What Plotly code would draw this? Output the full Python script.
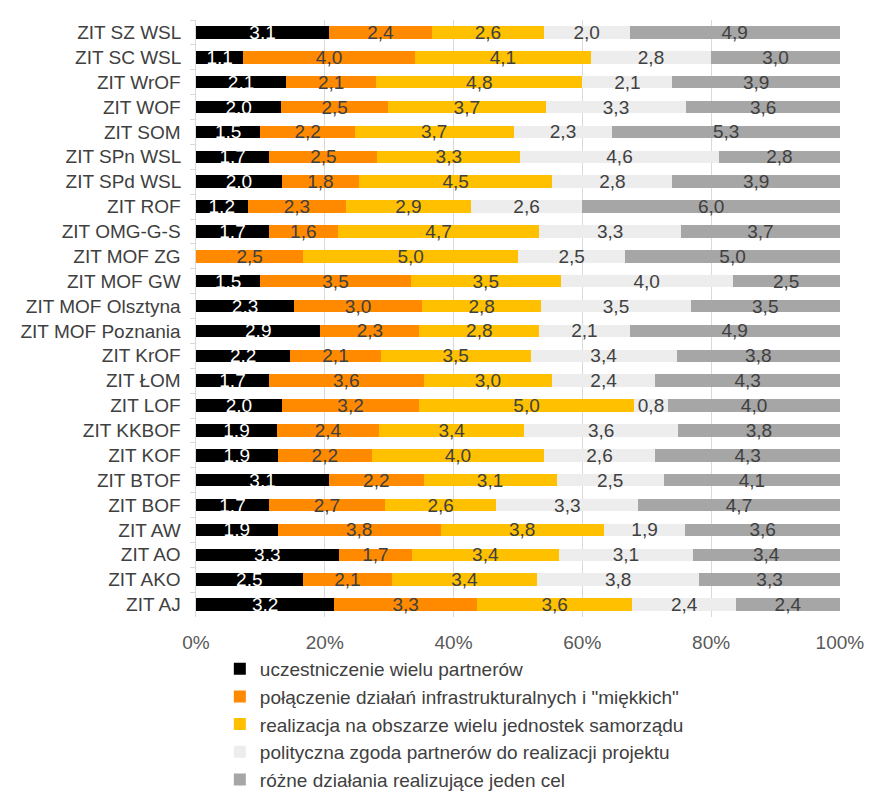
import plotly.graph_objects as go

categories = ["ZIT SZ WSL", "ZIT SC WSL", "ZIT WrOF", "ZIT WOF", "ZIT SOM", "ZIT SPn WSL",
              "ZIT SPd WSL", "ZIT ROF", "ZIT OMG-G-S", "ZIT MOF ZG", "ZIT MOF GW",
              "ZIT MOF Olsztyna", "ZIT MOF Poznania", "ZIT KrOF", "ZIT ŁOM", "ZIT LOF",
              "ZIT KKBOF", "ZIT KOF", "ZIT BTOF", "ZIT BOF", "ZIT AW", "ZIT AO", "ZIT AKO", "ZIT AJ"]

uczestniczenie = [3.1, 1.1, 2.1, 2.0, 1.5, 1.7, 2.0, 1.2, 1.7, 0.0, 1.5, 2.3, 2.9, 2.2, 1.7, 2.0,
                  1.9, 1.9, 3.1, 1.7, 1.9, 3.3, 2.5, 3.2]
polaczenie = [2.4, 4.0, 2.1, 2.5, 2.2, 2.5, 1.8, 2.3, 1.6, 2.5, 3.5, 3.0, 2.3, 2.1, 3.6, 3.2,
              2.4, 2.2, 2.2, 2.7, 3.8, 1.7, 2.1, 3.3]
realizacja = [2.6, 4.1, 4.8, 3.7, 3.7, 3.3, 4.5, 2.9, 4.7, 5.0, 3.5, 2.8, 2.8, 3.5, 3.0, 5.0,
              3.4, 4.0, 3.1, 2.6, 3.8, 3.4, 3.4, 3.6]
polityczna = [2.0, 2.8, 2.1, 3.3, 2.3, 4.6, 2.8, 2.6, 3.3, 2.5, 4.0, 3.5, 2.1, 3.4, 2.4, 0.8,
              3.6, 2.6, 2.5, 3.3, 1.9, 3.1, 3.8, 2.4]
rozne = [4.9, 3.0, 3.9, 3.6, 5.3, 2.8, 3.9, 6.0, 3.7, 5.0, 2.5, 3.5, 4.9, 3.8, 4.3, 4.0,
         3.8, 4.3, 4.1, 4.7, 3.6, 3.4, 3.3, 2.4]

series_names = ["uczestniczenie wielu partnerów",
                "połączenie działań infrastrukturalnych i \"miękkich\"",
                "realizacja na obszarze wielu jednostek samorządu",
                "polityczna zgoda partnerów do realizacji projektu",
                "różne działania realizujące jeden cel"]
series_values = [uczestniczenie, polaczenie, realizacja, polityczna, rozne]
colors = ["#000000", "#FF8A00", "#FFC000", "#EDEDED", "#A6A6A6"]
text_colors = ["#FFFFFF", "#404040", "#404040", "#404040", "#404040"]

FONT = "Liberation Sans, Arial, sans-serif"
FS = 19

fig = go.Figure()
for name, vals, col, tcol in zip(series_names, series_values, colors, text_colors):
    fig.add_trace(go.Bar(
        y=categories, x=vals, name=name, orientation="h",
        marker=dict(color=col, line=dict(width=0)),
        text=[("" if v == 0 else f"{v:.1f}".replace(".", ",")) for v in vals],
        textposition="inside", insidetextanchor="middle", textangle=0,
        textfont=dict(color=tcol, size=FS, family=FONT),
        cliponaxis=False,
        hoverinfo="skip",
    ))

fig.update_layout(
    barmode="stack", barnorm="percent", bargap=0.5,
    width=886, height=804,
    margin=dict(l=188, r=54, t=12, b=195),
    plot_bgcolor="white", paper_bgcolor="white",
    font=dict(family=FONT, size=FS, color="#404040"),
    uniformtext=dict(minsize=FS, mode="show"),
    xaxis=dict(range=[0, 100.02], tickvals=[0, 20, 40, 60, 80, 100],
               ticktext=["0%", "20%", "40%", "60%", "80%", "100%"],
               showgrid=True, gridcolor="#D9D9D9", gridwidth=1,
               zeroline=False, showline=False, ticks="outside", ticklen=8,
               tickcolor="rgba(0,0,0,0)", automargin=False,
               tickfont=dict(size=FS, color="#595959", family=FONT)),
    yaxis=dict(autorange="reversed", showgrid=False, showline=True, linecolor="#D9D9D9",
               ticks="outside", ticklen=5, tickcolor="#D9D9D9", tickson="boundaries",
               ticksuffix="  ", automargin=False,
               tickfont=dict(size=FS, color="#404040", family=FONT)),
    legend=dict(orientation="v", x=0.037, xanchor="left", y=-0.055, yanchor="top",
                font=dict(size=FS, color="#404040", family=FONT),
                traceorder="normal", itemwidth=30, tracegroupgap=0,
                bgcolor="rgba(0,0,0,0)"),
    showlegend=True,
)

fig.write_html("out.html")
